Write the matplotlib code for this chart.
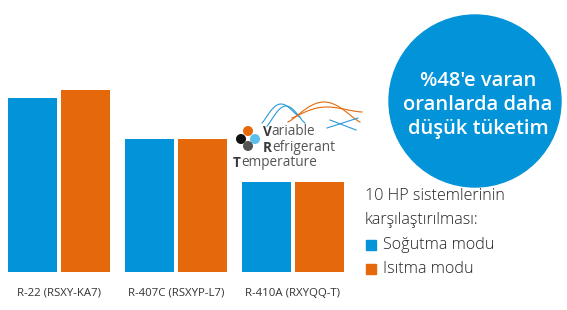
import numpy as np
import matplotlib.pyplot as plt
from matplotlib.patches import Circle, Rectangle

# Data (relative consumption)
categories = ['R-22 (RSXY-KA7)', 'R-407C (RSXYP-L7)', 'R-410A (RXYQQ-T)']
cooling = [95.6, 73.1, 49.5]
heating = [100.0, 73.1, 49.5]
legend_title = ['10 HP sistemlerinin', 'karşılaştırılması:']
series_names = ['Soğutma modu', 'Isıtma modu']
badge_lines = ["%48'e varan", 'oranlarda daha', 'düşük tüketim']

BLUE = '#0393D8'
ORANGE = '#E5690B'
W, H = 567, 310

fig = plt.figure(figsize=(W / 100, H / 100), dpi=100)
fig.patch.set_facecolor('white')

# bar axes: bottom of bars at y=272px, group stride 117px
ax = fig.add_axes([0, (H - 272) / H, 360 / W, 272 / H])
x = np.arange(len(categories))
bw = 49 / 117
off = 26.5 / 117
ax.bar(x - off, cooling, width=bw, color=BLUE)
ax.bar(x + off, heating, width=bw, color=ORANGE)
ax.set_xlim(-59 / 117, (360 - 59) / 117)
ax.set_ylim(0, 272 / 182 * 100)
ax.axis('off')
for xi, lab in zip(x, categories):
    ax.text(xi, -21 / 272 * ax.get_ylim()[1], lab, ha='center', va='center',
            fontsize=8.2, color='#333333', family='Open Sans')

# overlay in pixel coordinates
ov = fig.add_axes([0, 0, 1, 1], zorder=5)
ov.set_xlim(0, W)
ov.set_ylim(H, 0)
ov.axis('off')
ov.patch.set_alpha(0)

# badge
ov.add_patch(Circle((475, 101), 86, color=BLUE))
for i, line in enumerate(badge_lines):
    ov.text(478, 81 + i * 24, line, ha='center', va='center', color='white',
            fontsize=14.5, fontweight='semibold', family='Open Sans')

# legend block
for i, line in enumerate(legend_title):
    ov.text(365, 196 + i * 24, line, ha='left', va='center', fontsize=11.6,
            color='#222222', family='Open Sans', fontweight='light')
for i, (name, c) in enumerate(zip(series_names, [BLUE, ORANGE])):
    yy = 245 + i * 24
    ov.add_patch(Rectangle((366, yy - 5), 10, 10, color=c))
    ov.text(383, yy, name, ha='left', va='center', fontsize=11.6,
            color='#222222', family='Open Sans', fontweight='light')

# VRT logo
for (cx, cy), c in zip([(248, 131), (241, 139), (255, 139), (248, 146)],
                       [ORANGE, '#111111', '#5BC0EE', '#555555']):
    ov.add_patch(Circle((cx, cy), 4.3, color=c))
t = np.linspace(0, 1, 60)
waves = [((262, 300), 123, 117, 104, '#2A9AD6'),
         ((267, 305), 126, 123, 106, '#2A9AD6'),
         ((288, 360), 122, 122, 102, ORANGE),
         ((292, 362), 118, 112, 107, ORANGE)]
for (x0, x1), y0, y1, ypk, c in waves:
    xs = x0 + (x1 - x0) * t
    base = y0 + (y1 - y0) * t
    ys = base - (base - ypk) * np.sin(np.pi * t) ** 1.2
    ov.plot(xs, ys, color=c, lw=0.8)
ov.plot([327, 358], [128, 118], color='#2A9AD6', lw=0.8)
ov.plot([330, 356], [120, 130], color='#2A9AD6', lw=0.8)
logo = [(263, 132, 'V', 'ariable'), (263, 148, 'R', 'efrigerant'),
        (233, 163, 'T', 'emperature')]
for lx, ly, first, rest in logo:
    tx = ov.text(lx, ly, first, ha='left', va='center', fontsize=9.8,
                 fontweight='bold', color='#3a3a3a', family='Open Sans')
    ov.annotate(rest, xycoords=tx, xy=(1, 0), va='bottom', ha='left',
                fontsize=9.8, color='#555555', family='Open Sans')

fig.savefig('out.png', dpi=100, facecolor='white')
